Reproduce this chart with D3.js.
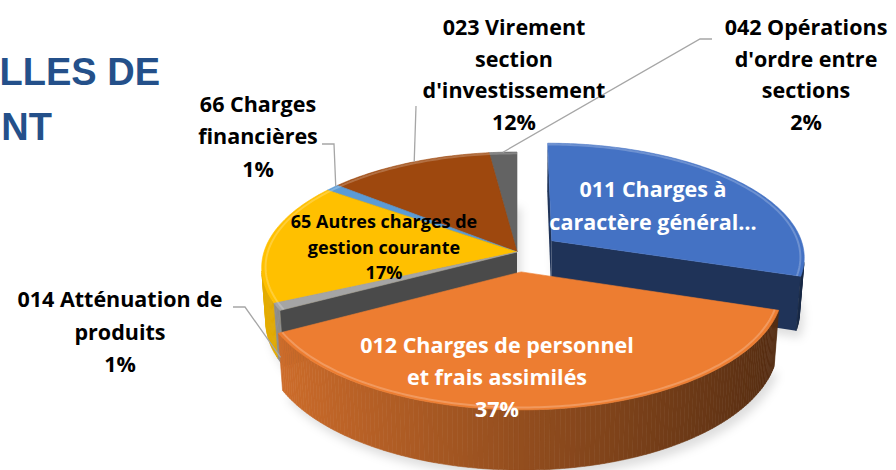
<!DOCTYPE html>
<html>
<head>
<meta charset="utf-8">
<script src="https://cdn.jsdelivr.net/npm/d3@7"></script>
<style>
html, body { margin: 0; padding: 0; background: #fff; }
svg { display: block; }
.lbl { font-family: 'Open Sans', Lato, sans-serif; font-weight: bold; }
.title { font-family: 'Liberation Sans', Arial, sans-serif; font-weight: bold; fill: #24508a; }
.leader { fill: none; stroke: #a6a6a6; stroke-width: 1.3; }
</style>
</head>
<body>
<div id="chart"></div>
<script>
// chart data
var categories = [
	'011 Charges à caractère général',
	'012 Charges de personnel et frais assimilés',
	'014 Atténuation de produits',
	'65 Autres charges de gestion courante',
	'66 Charges financières',
	'023 Virement section d\'investissement',
	'042 Opérations d\'ordre entre sections'
];
var values = [30, 37, 1, 17, 1, 12, 2];
var labelLines = [
	['011 Charges à', 'caractère général…'],
	['012 Charges de personnel', 'et frais assimilés'],
	['014 Atténuation de', 'produits'],
	['65 Autres charges de', 'gestion courante'],
	['66 Charges', 'financières'],
	['023 Virement', 'section', 'd\'investissement'],
	['042 Opérations', 'd\'ordre entre', 'sections']
];
var percentShown = [false, true, true, true, true, true, true];
var colors = ['#4472C4', '#ED7D31', '#A5A5A5', '#FFC000', '#5B9BD5', '#9E480E', '#636363'];
var titleLines = ['LLES DE', 'NT'];

(function () {
	'use strict';

	var width = 896, height = 470;
	var cx = 517, cy = 252, F = 253;
	var tilt = 26.65 * Math.PI / 180;
	var sinA = Math.sin(tilt), cosA = Math.cos(tilt);
	var dist = 6.62;      // camera distance, in pie radii
	var depth = 0.24;     // pie thickness, in pie radii
	var explode = { 0: 0.172, 1: 0.172 };
	var step = Math.PI / 180;
	var cam = [0, dist * sinA, -dist * cosA];

	// label placement (manual layout, as in the source chart)
	var layout = [
		{ x: 653, y: 197, lh: 33, size: 21.5, fill: '#fff' },
		{ x: 497, y: 353, lh: 32, size: 21.5, fill: '#fff' },
		{ x: 120, y: 307, lh: 32.5, size: 21.5, fill: '#000', leader: [[233, 307], [245, 307]], anchorY: -depth * 0.9, frac: 0.5 },
		{ x: 384, y: 228, lh: 25.5, size: 18, fill: '#000' },
		{ x: 258, y: 111.5, lh: 32.7, size: 21.5, fill: '#000', leader: [[322, 144], [334, 144]], anchorY: 0, frac: 0.83 },
		{ x: 514, y: 35, lh: 31.7, size: 21.5, fill: '#000', leader: [[416, 106]], anchorY: 0, frac: 0.54 },
		{ x: 806, y: 35, lh: 31.7, size: 21.5, fill: '#000', leader: [[712, 39], [700, 39]], anchorY: 0, frac: 0.5 }
	];

	var xScale = d3.scaleLinear().domain([-1, 1]).range([cx - F, cx + F]);
	var yScale = d3.scaleLinear().domain([-1, 1]).range([cy + F, cy - F]);

	function project(X, Y, Z) {
		var yc = Y * cosA + Z * sinA;
		var d = 1 + (Z * cosA - Y * sinA) / dist;
		return [xScale(X / d), yScale(yc / d)];
	}

	function shade(col, k) {
		var c = d3.rgb(col);
		return d3.rgb(c.r * k, c.g * k, c.b * k).formatHex();
	}

	function facing(n, p) {
		return n[0] * (cam[0] - p[0]) + n[1] * (cam[1] - p[1]) + n[2] * (cam[2] - p[2]) > 1e-6;
	}

	var total = d3.sum(values);
	var pct = d3.format('.0%');
	var arcs = d3.pie().sort(null).value(function (d) { return d; })(values);

	arcs.forEach(function (a, i) {
		var off = explode[i] || 0;
		a.mid = (a.startAngle + a.endAngle) / 2;
		a.ox = off * Math.sin(a.mid);
		a.oz = off * Math.cos(a.mid);
		a.zOrder = a.oz + 0.5 * Math.cos(a.mid);
		a.index = i;
	});

	function pt(a, theta, r, Y) {
		return project(a.ox + r * Math.sin(theta), Y, a.oz + r * Math.cos(theta));
	}

	function angles(a) {
		var n = Math.max(2, Math.ceil((a.endAngle - a.startAngle) / step));
		return d3.range(n + 1).map(function (k) {
			return a.startAngle + (a.endAngle - a.startAngle) * k / n;
		});
	}

	var line = d3.line();
	var faces = [], shadows = [], rims = [];

	arcs.slice().sort(function (p, q) { return q.zOrder - p.zOrder; }).forEach(function (a) {
		var col = colors[a.index];
		var th = angles(a);

		// radial faces
		[[a.startAngle, [-Math.cos(a.startAngle), 0, Math.sin(a.startAngle)]],
		 [a.endAngle, [Math.cos(a.endAngle), 0, -Math.sin(a.endAngle)]]].forEach(function (f) {
			var t = f[0];
			var p = [a.ox + 0.5 * Math.sin(t), -depth / 2, a.oz + 0.5 * Math.cos(t)];
			if (!facing(f[1], p)) return;
			var poly = [pt(a, t, 0, 0), pt(a, t, 1, 0), pt(a, t, 1, -depth), pt(a, t, 0, -depth)];
			faces.push({ d: line(poly) + 'Z', fill: shade(col, 0.45) });
		});

		// outer wall
		for (var k = 0; k < th.length - 1; k++) {
			var tm = (th[k] + th[k + 1]) / 2;
			var n = [Math.sin(tm), 0, Math.cos(tm)];
			var p = [a.ox + n[0], -depth / 2, a.oz + n[2]];
			if (!facing(n, p)) continue;
			var q = [pt(a, th[k], 1, 0), pt(a, th[k + 1], 1, 0), pt(a, th[k + 1], 1, -depth), pt(a, th[k], 1, -depth)];
			var c = shade(col, 0.62 - 0.28 * Math.sin(tm));
			faces.push({ d: line(q) + 'Z', fill: c, stroke: c });
		}

		// top
		var top = [pt(a, 0, 0, 0)].concat(th.map(function (t) { return pt(a, t, 1, 0); }));
		faces.push({ d: line(top) + 'Z', fill: col, stroke: col });
		rims.push(line(th.map(function (t) { return pt(a, t, 0.985, 0); })));

		var bottom = [pt(a, 0, 0, -depth)].concat(th.map(function (t) { return pt(a, t, 1, -depth); }));
		shadows.push(line(bottom) + 'Z');
	});

	var svg = d3.select('#chart')
		.append('svg')
		.attr('width', width)
		.attr('height', height);

	var defs = svg.append('defs');
	defs.append('filter')
		.attr('id', 'soft')
		.attr('x', '-20%').attr('y', '-20%').attr('width', '140%').attr('height', '140%')
		.append('feGaussianBlur')
		.attr('stdDeviation', 5);

	svg.append('rect').attr('width', width).attr('height', height).attr('fill', '#fff');

	// title (cut by the left edge)
	svg.append('g')
		.selectAll('text')
		.data(titleLines)
		.join('text')
		.attr('class', 'title')
		.attr('text-anchor', 'end')
		.attr('x', function (d, i) { return i === 0 ? 160 : 52; })
		.attr('y', function (d, i) { return 85 + i * 55; })
		.style('font-size', '38px')
		.text(function (d) { return d; });

	svg.append('g')
		.attr('filter', 'url(#soft)')
		.attr('transform', 'translate(4,7)')
		.selectAll('path')
		.data(shadows)
		.join('path')
		.attr('d', function (d) { return d; })
		.attr('fill', '#000')
		.attr('fill-opacity', 0.13);

	svg.append('g')
		.selectAll('path')
		.data(faces)
		.join('path')
		.attr('d', function (d) { return d.d; })
		.attr('fill', function (d) { return d.fill; })
		.attr('stroke', function (d) { return d.stroke || 'none'; })
		.attr('stroke-width', 0.6)
		.attr('stroke-linejoin', 'round');

	svg.append('g')
		.selectAll('path')
		.data(rims)
		.join('path')
		.attr('d', function (d) { return d; })
		.attr('fill', 'none')
		.attr('stroke', '#fff')
		.attr('stroke-opacity', 0.22)
		.attr('stroke-width', 2);

	// leader lines
	svg.append('g')
		.selectAll('path')
		.data(arcs.filter(function (a) { return layout[a.index].leader; }))
		.join('path')
		.attr('class', 'leader')
		.attr('d', function (a) {
			var l = layout[a.index];
			var t = a.startAngle + (a.endAngle - a.startAngle) * l.frac;
			return line(l.leader.concat([pt(a, t, 1, l.anchorY)]));
		});

	// labels
	var lbl = svg.append('g')
		.selectAll('text')
		.data(arcs)
		.join('text')
		.attr('class', 'lbl')
		.attr('text-anchor', 'middle')
		.style('font-size', function (a) { return layout[a.index].size + 'px'; })
		.attr('fill', function (a) { return layout[a.index].fill; });

	lbl.selectAll('tspan')
		.data(function (a) {
			var l = layout[a.index];
			var lines = labelLines[a.index].slice();
			if (percentShown[a.index]) lines.push(pct(values[a.index] / total));
			return lines.map(function (t, j) { return { t: t, x: l.x, y: l.y + j * l.lh }; });
		})
		.join('tspan')
		.attr('x', function (d) { return d.x; })
		.attr('y', function (d) { return d.y; })
		.text(function (d) { return d.t; });
})();
</script>
</body>
</html>
